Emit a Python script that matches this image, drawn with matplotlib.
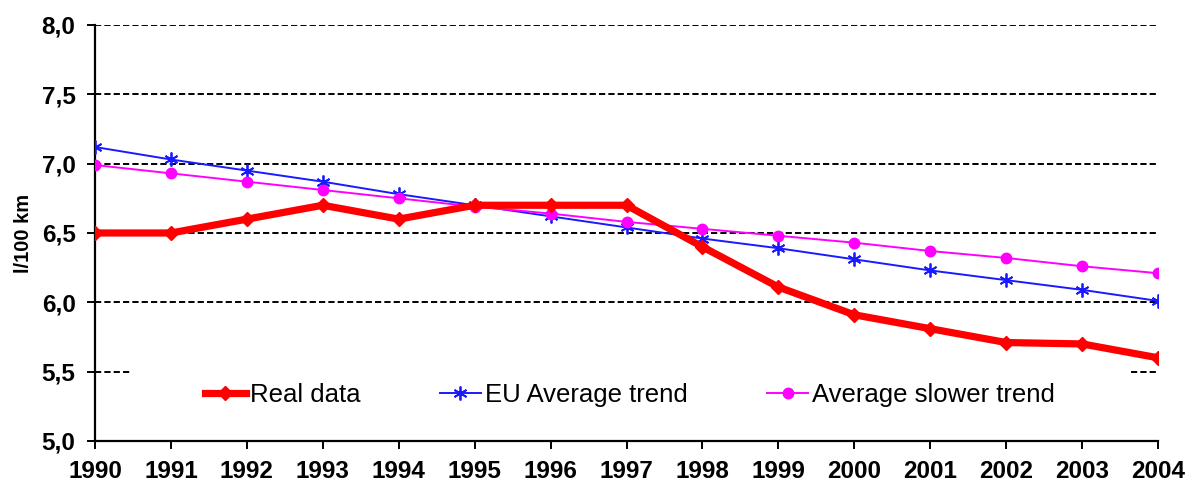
import matplotlib
matplotlib.use("Agg")
import matplotlib.pyplot as plt
from matplotlib.patches import Rectangle

years = list(range(1990, 2005))
real_data = [6.50, 6.50, 6.60, 6.70, 6.60, 6.70, 6.70, 6.70, 6.40, 6.11, 5.91, 5.81, 5.71, 5.70, 5.60]
eu_trend = [7.12, 7.03, 6.95, 6.87, 6.78, 6.70, 6.62, 6.54, 6.46, 6.39, 6.31, 6.23, 6.16, 6.09, 6.01]
slow_trend = [6.99, 6.93, 6.87, 6.81, 6.75, 6.69, 6.64, 6.58, 6.53, 6.48, 6.43, 6.37, 6.32, 6.26, 6.21]
yticks = [5.0, 5.5, 6.0, 6.5, 7.0, 7.5, 8.0]
ytick_labels = ["5,0", "5,5", "6,0", "6,5", "7,0", "7,5", "8,0"]

plt.rcParams['font.family'] = ['Liberation Sans', 'DejaVu Sans']

fig = plt.figure(figsize=(11.92, 4.86), dpi=100)
ax = fig.add_axes([0.0797, 0.0926, 0.8918, 0.856])

ax.plot(years, real_data, color='#ff0000', lw=5.2, marker='D', ms=7.5, label='Real data', zorder=4,
        solid_joinstyle='round')
ax.plot(years, eu_trend, color='#1a1aff', lw=1.4, marker=(6, 2, 0), ms=10, mew=1.3, label='EU Average trend', zorder=3)
ax.plot(years, slow_trend, color='#ff00ff', lw=1.4, marker='o', ms=7.5, label='Average slower trend', zorder=3)

ax.set_xlim(1990, 2004)
ax.set_ylim(5.0, 8.0)
ax.set_xticks(years)
ax.set_xticklabels([str(y) for y in years])
ax.set_yticks(yticks)
ax.set_yticklabels(ytick_labels)

ax.set_axisbelow(True)
ax.yaxis.grid(True, color='black', linestyle=(0, (3.2, 1.6)), lw=1.4)
ax.xaxis.grid(False)

for s in ['top', 'right']:
    ax.spines[s].set_visible(False)
for s in ['left', 'bottom']:
    ax.spines[s].set_linewidth(1.6)

ax.tick_params(axis='both', direction='out', length=6, width=1.4, labelsize=17.5)
ax.tick_params(axis='x', pad=8)
ax.tick_params(axis='y', pad=8)
for lab in ax.get_xticklabels() + ax.get_yticklabels():
    lab.set_fontweight('bold')

ax.set_ylabel('l/100 km', fontsize=14.5, fontweight='bold', labelpad=6)

# white legend area masking the gridline
ax.add_patch(Rectangle((0.033, 0.11), 0.94, 0.09, transform=ax.transAxes,
                       facecolor='white', edgecolor='none', zorder=1))

leg = ax.legend(loc='center', bbox_to_anchor=(0.503, 0.11), ncol=3, frameon=False,
                fontsize=18.5, handlelength=1.6, handletextpad=0.15, columnspacing=3.1)

fig.savefig('out.png', dpi=100)
